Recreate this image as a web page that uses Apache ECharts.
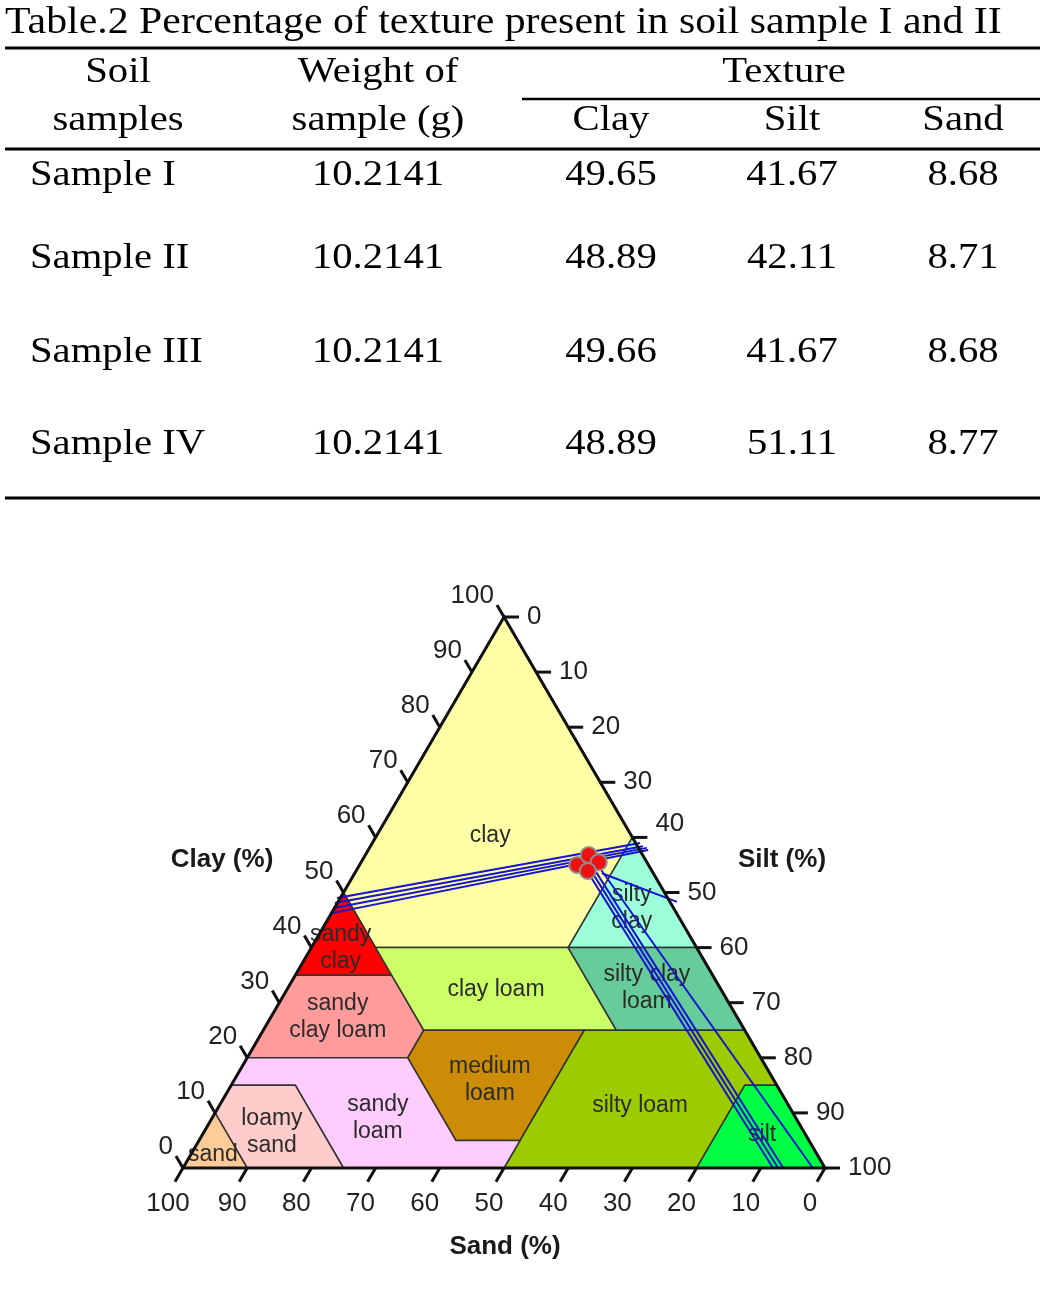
<!DOCTYPE html>
<html>
<head>
<meta charset="utf-8">
<script src="https://cdn.jsdelivr.net/npm/echarts@6/dist/echarts.min.js"></script>
<style>
html, body { margin: 0; padding: 0; background: #ffffff; }
#main { width: 1041px; height: 1315px; }
</style>
</head>
<body>
<div id="main"></div>
<script>
// ---- table ----
var tableTitle = 'Table.2 Percentage of texture present in soil sample I and II';
var sampleNames = ['Sample I', 'Sample II', 'Sample III', 'Sample IV'];
var sampleWeight = [10.2141, 10.2141, 10.2141, 10.2141];
var clayPct = [49.65, 48.89, 49.66, 48.89];
var siltPct = [41.67, 42.11, 41.67, 51.11];
var sandPct = [8.68, 8.71, 8.68, 8.77];

// ---- texture triangle, every point as [clay %, silt %] ----
var regionNames = ['clay', 'sandy clay', 'sandy clay loam', 'clay loam', 'silty clay',
    'silty clay loam', 'medium loam', 'silty loam', 'silt', 'sandy loam', 'loamy sand', 'sand'];
var regionLabelText = ['clay', 'sandy\nclay', 'sandy\nclay loam', 'clay loam', 'silty\nclay',
    'silty clay\nloam', 'medium\nloam', 'silty loam', 'silt', 'sandy\nloam', 'loamy\nsand', 'sand'];
var regionPolygons = [
    [[100, 0], [50, 0], [40, 10], [40, 40], [60, 40]],
    [[50, 0], [35, 0], [35, 15]],
    [[35, 0], [20, 0], [20, 25], [25, 25], [35, 15]],
    [[40, 10], [25, 25], [25, 55], [40, 40]],
    [[60, 40], [40, 40], [40, 60]],
    [[40, 40], [25, 55], [25, 75], [40, 60]],
    [[25, 25], [20, 25], [5, 40], [5, 50], [25, 50]],
    [[25, 50], [0, 50], [0, 80], [15, 80], [15, 85], [25, 75]],
    [[15, 80], [0, 80], [0, 100], [15, 85]],
    [[20, 0], [15, 0], [15, 10], [0, 25], [0, 50], [5, 50], [5, 40], [20, 25]],
    [[15, 0], [10, 0], [0, 10], [0, 25], [15, 10]],
    [[10, 0], [0, 0], [0, 10]]
];
var regionLabelAt = [
    [60.3, 17.7], [39.9, 4.6], [27.4, 10.4], [32.3, 32.6], [47.2, 46.3],
    [32.7, 55.9], [16.0, 39.8], [11.4, 65.5], [6.0, 87.2], [9.1, 25.8], [6.5, 10.6], [2.5, 3.4]
];
var outline = [[100, 0], [0, 0], [0, 100]];
var tickValues = [0, 10, 20, 30, 40, 50, 60, 70, 80, 90, 100];

// plotted samples as drawn in the figure
var plottedClay = [55.0, 56.8, 55.5, 53.9];
var plottedSilt = [33.9, 34.8, 37.0, 36.1];

// guide lines drawn through the samples
var clayGuides = [
    [[49.0, -0.5], [59.0, 41.7]],
    [[48.1, -0.4], [58.4, 42.45]],
    [[47.2, -0.1], [58.1, 43.2]],
    [[46.3, 0.2], [57.7, 43.6]]
];
var sandGuides = [
    [[53.7, 36.2], [0, 91.9]],
    [[53.7, 36.85], [0, 92.7]],
    [[53.7, 37.5], [0, 93.5]],
    [[54.4, 37.75], [0, 98.1]]
];
var siltGuides = [
    [[53.5, 38.5], [48.3, 52.8]]
];

var regionColors = ['#ffffa6', '#ff0000', '#ff9b9b', '#ccff66', '#9dffd9', '#66cc9a',
    '#cc8c06', '#9ccc00', '#00ff44', '#ffccff', '#ffcccc', '#ffcc99'];

function toXY(p) { return [p[1] + p[0] / 2, p[0]]; }

var guides = clayGuides.concat(sandGuides, siltGuides);
var tickData = [];
[0, 1, 2].forEach(function (a) {
    tickValues.forEach(function (v) { tickData.push([a, v]); });
});

var SANS = '"Liberation Sans", Arial, sans-serif';
var SERIF = '"Liberation Serif", "Times New Roman", serif';

function unit(a, b) {
    var dx = b[0] - a[0], dy = b[1] - a[1];
    var l = Math.sqrt(dx * dx + dy * dy);
    return [dx / l, dy / l];
}

function tickItem(params, api) {
    var d = tickData[params.dataIndex];
    var ax = d[0], v = d[1];
    var top = api.coord(toXY([100, 0]));
    var bl = api.coord(toXY([0, 0]));
    var br = api.coord(toXY([0, 100]));
    var base, dir, len, tx, ty, align;
    if (ax === 0) {
        base = api.coord(toXY([v, 0]));
        dir = unit(br, top); len = 14;
    } else if (ax === 1) {
        base = api.coord(toXY([100 - v, v]));
        dir = [1, 0]; len = 15;
    } else {
        base = api.coord(toXY([0, 100 - v]));
        dir = unit(top, bl); len = 16;
    }
    var end = [base[0] + dir[0] * len, base[1] + dir[1] * len];
    if (ax === 0) { tx = end[0] - 3; ty = end[1] - 9; align = 'right'; }
    else if (ax === 1) { tx = end[0] + 8; ty = end[1] + (v === 40 ? -14 : 0); align = 'left'; }
    else { tx = end[0] - 7; ty = end[1] + 22; align = 'center'; }
    return {
        type: 'group',
        children: [{
            type: 'line',
            shape: { x1: base[0], y1: base[1], x2: end[0], y2: end[1] },
            style: { stroke: '#111', lineWidth: 3 }
        }, {
            type: 'text',
            style: {
                text: String(v), x: tx, y: ty, textAlign: align, textVerticalAlign: 'middle',
                font: '26px ' + SANS, fill: '#222'
            }
        }]
    };
}

var chart = echarts.init(document.getElementById('main'));

var graphics = [];
graphics.push({
    type: 'text', x: 5, y: 23, scaleX: 1.13,
    style: { text: tableTitle, font: '37px ' + SERIF, fill: '#000', textAlign: 'left', textVerticalAlign: 'middle' }
});
function cell(text, x, y, align) {
    graphics.push({
        type: 'text', x: x, y: y, scaleX: 1.13,
        style: { text: text, font: '36px ' + SERIF, fill: '#000', textAlign: align || 'center', textVerticalAlign: 'middle' }
    });
}
function rule(x1, x2, y, w) {
    graphics.push({ type: 'line', shape: { x1: x1, y1: y, x2: x2, y2: y }, style: { stroke: '#000', lineWidth: w } });
}
var colX = [118, 378, 611, 792, 963];
var rowY = [176, 259, 353, 445];
rule(5, 1040, 48, 3);
rule(522, 1040, 99, 2.5);
rule(5, 1040, 149, 3);
rule(5, 1040, 498, 3);
cell('Soil', colX[0], 73);
cell('Weight of', colX[1], 73);
cell('Texture', 784, 73);
cell('samples', colX[0], 121);
cell('sample (g)', colX[1], 121);
cell('Clay', colX[2], 121);
cell('Silt', colX[3], 121);
cell('Sand', colX[4], 121);
sampleNames.forEach(function (n, i) {
    cell(n, 30, rowY[i], 'left');
    cell(sampleWeight[i].toFixed(4), colX[1], rowY[i]);
    cell(clayPct[i].toFixed(2), colX[2], rowY[i]);
    cell(siltPct[i].toFixed(2), colX[3], rowY[i]);
    cell(sandPct[i].toFixed(2), colX[4], rowY[i]);
});
// axis names
[['Clay (%)', 222, 860], ['Silt (%)', 782, 860], ['Sand (%)', 505, 1247]].forEach(function (t) {
    graphics.push({
        type: 'text', x: t[1], y: t[2],
        style: { text: t[0], font: 'bold 26px ' + SANS, fill: '#1a1a1a', textAlign: 'center', textVerticalAlign: 'middle' }
    });
});

var option = {
    animation: false,
    backgroundColor: '#ffffff',
    grid: { left: 183, top: 617, width: 642, height: 551, outerBoundsMode: 'none' },
    xAxis: { type: 'value', min: 0, max: 100, show: false },
    yAxis: { type: 'value', min: 0, max: 100, show: false },
    graphic: graphics,
    series: [
        {
            type: 'custom', z: 1, clip: false,
            data: regionNames.map(function (n, i) { return [i, 0]; }),
            renderItem: function (params, api) {
                var i = params.dataIndex;
                var pts = regionPolygons[i].map(function (p) { return api.coord(toXY(p)); });
                return { type: 'polygon', shape: { points: pts },
                    style: { fill: regionColors[i], stroke: '#333', lineWidth: 1.5 } };
            }
        },
        {
            type: 'custom', z: 2, clip: false,
            data: regionNames.map(function (n, i) { return [i, 0]; }),
            renderItem: function (params, api) {
                var i = params.dataIndex;
                var c = api.coord(toXY(regionLabelAt[i]));
                return { type: 'text', style: {
                    text: regionLabelText[i], x: c[0], y: c[1], textAlign: 'center', textVerticalAlign: 'middle',
                    font: '23px ' + SANS, fill: '#2b2b2b', lineHeight: 27 } };
            }
        },
        {
            type: 'custom', z: 3, clip: false,
            data: guides.map(function (g, i) { return [i, 0]; }),
            renderItem: function (params, api) {
                var g = guides[params.dataIndex];
                var a = api.coord(toXY(g[0])), b = api.coord(toXY(g[1]));
                return { type: 'line', shape: { x1: a[0], y1: a[1], x2: b[0], y2: b[1] },
                    style: { stroke: '#1414d2', lineWidth: 2 } };
            }
        },
        {
            type: 'custom', z: 4, clip: false,
            data: [[0, 0]],
            renderItem: function (params, api) {
                var pts = outline.map(function (p) { return api.coord(toXY(p)); });
                return { type: 'polygon', shape: { points: pts },
                    style: { fill: 'none', stroke: '#111', lineWidth: 3 } };
            }
        },
        {
            type: 'custom', z: 4, clip: false,
            data: tickData.map(function (t, i) { return [i, 0]; }),
            renderItem: tickItem
        },
        {
            type: 'scatter', z: 5,
            symbolSize: 16,
            itemStyle: { color: '#ee1111', borderColor: '#8c8c8c', borderWidth: 2, opacity: 1 },
            data: plottedClay.map(function (c, i) { return toXY([c, plottedSilt[i]]); })
        }
    ]
};
chart.setOption(option);
</script>
</body>
</html>
